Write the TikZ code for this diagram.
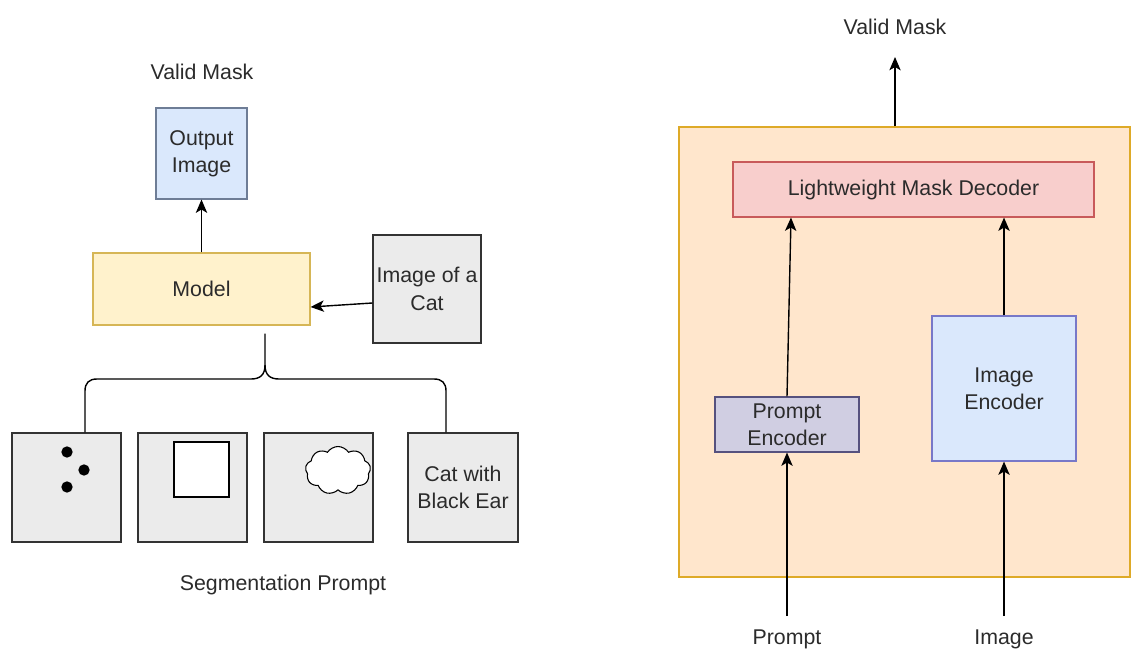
\documentclass[tikz,border=0pt]{standalone}
\usepackage{fontspec}
\setmainfont{Liberation Sans}
\usetikzlibrary{arrows.meta,calc,shapes.symbols}
\definecolor{txt}{HTML}{2B2B2B}
\definecolor{blueFill}{HTML}{DAE8FC}
\definecolor{outLine}{RGB}{110,125,150}
\definecolor{yelFill}{RGB}{255,242,204}
\definecolor{yelLine}{RGB}{214,182,86}
\definecolor{orFill}{RGB}{255,230,204}
\definecolor{orLine}{RGB}{222,170,40}
\definecolor{redFill}{RGB}{248,206,204}
\definecolor{redLine}{RGB}{200,90,90}
\definecolor{purFill}{RGB}{208,206,226}
\definecolor{purLine}{RGB}{86,81,126}
\definecolor{ieLine}{RGB}{120,120,200}
\begin{document}
\begin{tikzpicture}[x=0.75pt,y=-0.75pt,
  font=\fontsize{16}{20.5}\selectfont, text=txt,
  every node/.style={inner sep=0pt, align=center},
  box/.style={draw, line width=0.8pt, minimum width=#1},
  grey/.style={box=81.75pt, minimum height=81.75pt, fill=black!8, draw=black!80},
  wire/.style={line width=1.05pt, draw=black},
  arr/.style={wire, -{Stealth[length=10pt,width=8.5pt,inset=2.5pt]}}]
\useasboundingbox (0,0) rectangle (1137,655);

% ---------- left: prompting a segmentation model ----------
\node (vmL) at (202,72) {Valid Mask};
\node[box=68.25pt, minimum height=68.25pt, fill=blueFill, draw=outLine]
  (out) at (201.5,153.5) {Output\\Image};
\node[box=162.75pt, minimum height=54pt, fill=yelFill, draw=yelLine]
  (model) at (201.5,289) {Model};
\node[grey, minimum width=81pt, minimum height=81pt] (cat) at (427,289) {Image of a\\Cat};

\node[grey] (p1) at (66.5,487.5) {};
\node[grey] (p2) at (192.5,487.5) {};
\node[grey] (p3) at (318.5,487.5) {};
\node[grey, minimum width=82.5pt] (p4) at (463,487.5) {Cat with\\Black Ear};
\node (segp) at (283,585) {Segmentation Prompt};

% prompt glyphs: points, box, region
\foreach \n/\px/\py in {d1/67/452, d2/84/470, d3/67/487}
  \node[circle, fill=black, minimum size=8.5pt] (\n) at (\px,\py) {};
\node[draw=black, line width=1pt, fill=white, minimum size=41.25pt] (sq) at (201.5,469.5) {};
\node[cloud, cloud puffs=9, cloud puff arc=115, aspect=1.35, draw=black, line width=0.8pt,
  fill=white, minimum width=49pt, minimum height=36pt] (cl) at (338,470.5) {};

\draw[arr] (model.north) -- (out.south);
\draw[arr] ($(cat.west)+(0,14)$) -- ($(model.east)+(0,18)$);

% brace gathering the four prompt kinds into the model
\coordinate (bt) at ($(model.south)+(63.5,8)$);
\draw[wire] ($(p1.north)+(18.5,0)$) -- (85,391) .. controls (85,383) and (89,379) .. (97,379)
  -- (251,379) .. controls (260,379) and (265,375) .. (265,365) -- (bt);
\draw[wire] ($(p4.north)+(-17,0)$) -- (446,391) .. controls (446,383) and (442,379) .. (434,379)
  -- (279,379) .. controls (270,379) and (265,375) .. (265,365);

% ---------- right: encoder / decoder pipeline ----------
\node[box=338.25pt, minimum height=337.5pt, fill=orFill, draw=orLine] (cont) at (904.5,352) {};
\node[box=270.75pt, minimum height=41.25pt, fill=redFill, draw=redLine]
  (dec) at (913.5,189.5) {Lightweight Mask Decoder};
\node[box=108pt, minimum height=41.25pt, fill=purFill, draw=purLine]
  (pe) at (787,424.5) {Prompt\\Encoder};
\node[box=108pt, minimum height=108.75pt, fill=blueFill, draw=ieLine]
  (ie) at (1004,388.5) {Image\\Encoder};

\node (vmR) at (895,27) {Valid Mask};
\coordinate (vmtip) at (895,57);
\node (ptxt) at (787,639) {Prompt};
\node (itxt) at (1004,639) {Image};

\draw[arr] ($(cont.north)+(-9.5,0)$) -- (vmtip);
\draw[arr] (pe.north) -- ($(dec.south)+(-122.5,0)$);
\draw[arr] (ie.north) -- (ie.north |- dec.south);
\draw[arr] ($(ptxt.north)+(0,-13)$) -- (pe.south);
\draw[arr] ($(itxt.north)+(0,-13)$) -- (ie.south);
\end{tikzpicture}
\end{document}
